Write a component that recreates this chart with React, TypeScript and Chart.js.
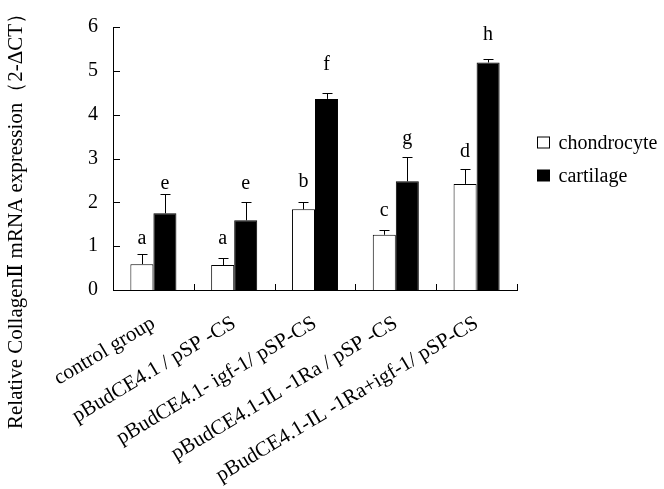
import { useEffect, useRef } from "react";
import { Chart, registerables } from "chart.js";
Chart.register(...registerables);

const categories = [
  "control group",
  "pBudCE4.1 / pSP -CS",
  "pBudCE4.1- igf-1/ pSP-CS",
  "pBudCE4.1-IL -1Ra / pSP -CS",
  "pBudCE4.1-IL -1Ra+igf-1/ pSP-CS",
];
const chondrocyte = [0.59, 0.57, 1.84, 1.26, 2.42];
const chondrocyteErr = [0.23, 0.16, 0.17, 0.12, 0.34];
const cartilage = [1.75, 1.59, 4.36, 2.48, 5.19];
const cartilageErr = [0.43, 0.42, 0.13, 0.55, 0.09];
const chondrocyteLetters = ["a", "a", "b", "c", "d"];
const chondrocyteLetterY = [1.17, 1.17, 2.48, 1.8, 3.16];
const cartilageLetters = ["e", "e", "f", "g", "h"];
const cartilageLetterY = [2.43, 2.43, 5.15, 3.46, 5.83];
const yTickValues = [0, 1, 2, 3, 4, 5, 6];
const yTitle = "Relative CollagenⅡ mRNA expression（2-ΔCT）";

const FONT = "'Liberation Serif', 'DejaVu Serif', serif";

const overlay = {
  id: "overlay",
  afterDatasetsDraw(chart: any) {
    const ctx = chart.ctx;
    const xs = chart.scales.x;
    const ys = chart.scales.y;
    const area = chart.chartArea;
    ctx.save();
    ctx.strokeStyle = "#000";
    ctx.fillStyle = "#000";
    ctx.lineWidth = 1;
    // error bars
    const errs = [chondrocyteErr, cartilageErr];
    const vals = [chondrocyte, cartilage];
    for (let d = 0; d < 2; d++) {
      const meta = chart.getDatasetMeta(d);
      meta.data.forEach((bar: any, i: number) => {
        const x = Math.round(bar.x) + 0.5;
        const y0 = ys.getPixelForValue(vals[d][i]);
        const y1 = Math.round(ys.getPixelForValue(vals[d][i] + errs[d][i])) + 0.5;
        ctx.beginPath();
        ctx.moveTo(x, y0);
        ctx.lineTo(x, y1);
        ctx.moveTo(x - 5, y1);
        ctx.lineTo(x + 5, y1);
        ctx.stroke();
      });
    }
    // letters
    ctx.font = `20px ${FONT}`;
    ctx.textAlign = "center";
    ctx.textBaseline = "middle";
    const letters = [chondrocyteLetters, cartilageLetters];
    const letterY = [chondrocyteLetterY, cartilageLetterY];
    for (let d = 0; d < 2; d++) {
      const meta = chart.getDatasetMeta(d);
      meta.data.forEach((bar: any, i: number) => {
        ctx.fillText(letters[d][i], bar.x, ys.getPixelForValue(letterY[d][i]));
      });
    }
    // inward ticks
    ctx.beginPath();
    yTickValues.forEach((v) => {
      const y = Math.round(ys.getPixelForValue(v)) + 0.5;
      ctx.moveTo(area.left, y);
      ctx.lineTo(area.left + 7, y);
    });
    const n = categories.length;
    for (let i = 1; i <= n; i++) {
      const x = Math.round(xs.getPixelForValue(i - 0.5)) + 0.5;
      ctx.moveTo(x, area.bottom);
      ctx.lineTo(x, area.bottom - 6);
    }
    ctx.stroke();
    // legend
    const lx = area.right + 20.5;
    const items = chart.data.datasets;
    items.forEach((ds: any, k: number) => {
      const cy = 142.5 + k * 33;
      ctx.fillStyle = ds.backgroundColor;
      ctx.fillRect(lx, cy - 5.5, 12, 11);
      ctx.strokeStyle = "#000";
      ctx.strokeRect(lx, cy - 5.5, 12, 11);
      ctx.fillStyle = "#000";
      ctx.font = `20px ${FONT}`;
      ctx.textAlign = "left";
      ctx.textBaseline = "middle";
      ctx.fillText(ds.label, lx + 21, cy + 1);
    });
    // y title
    ctx.save();
    ctx.translate(16, 429);
    ctx.rotate(-Math.PI / 2);
    ctx.font = `21px ${FONT}`;
    ctx.textAlign = "left";
    ctx.textBaseline = "middle";
    ctx.fillStyle = "#000";
    ctx.fillText(yTitle, 0, 0);
    ctx.restore();
    ctx.restore();
  },
};

export default function App() {
  const ref = useRef<HTMLCanvasElement | null>(null);
  useEffect(() => {
    if (!ref.current) return;
    const chart = new Chart(ref.current, {
      type: "bar",
      data: {
        labels: categories,
        datasets: [
          {
            label: "chondrocyte",
            data: chondrocyte,
            backgroundColor: "#ffffff",
            borderColor: "#000000",
            borderWidth: 1,
            categoryPercentage: 0.57,
            barPercentage: 1,
          },
          {
            label: "cartilage",
            data: cartilage,
            backgroundColor: "#000000",
            borderColor: "#000000",
            borderWidth: 1,
            categoryPercentage: 0.57,
            barPercentage: 1,
          },
        ],
      },
      options: {
        responsive: false,
        animation: false,
        devicePixelRatio: 1,
        layout: { padding: { top: 24, right: 147, bottom: 0, left: 0 } },
        plugins: { legend: { display: false }, tooltip: { enabled: false } },
        scales: {
          x: {
            grid: { display: false, drawTicks: false },
            border: { display: true, color: "#000", width: 1 },
            ticks: {
              color: "#000",
              font: { family: FONT, size: 21 },
              minRotation: 31,
              maxRotation: 31,
              padding: 21,
              autoSkip: false,
            },
            afterFit(scale: any) {
              scale.height = 199;
            },
          },
          y: {
            min: 0,
            max: 6,
            grid: { display: false, drawTicks: false },
            border: { display: true, color: "#000", width: 1 },
            ticks: {
              stepSize: 1,
              color: "#000",
              font: { family: FONT, size: 20 },
              padding: 15,
            },
            afterFit(scale: any) {
              scale.width = 113;
            },
          },
        },
      },
      plugins: [overlay],
    });
    return () => chart.destroy();
  }, []);
  return (
    <div style={{ position: "absolute", left: 0, top: 0, width: 664, height: 489, background: "#fff" }}>
      <canvas ref={ref} width={664} height={489} />
    </div>
  );
}
